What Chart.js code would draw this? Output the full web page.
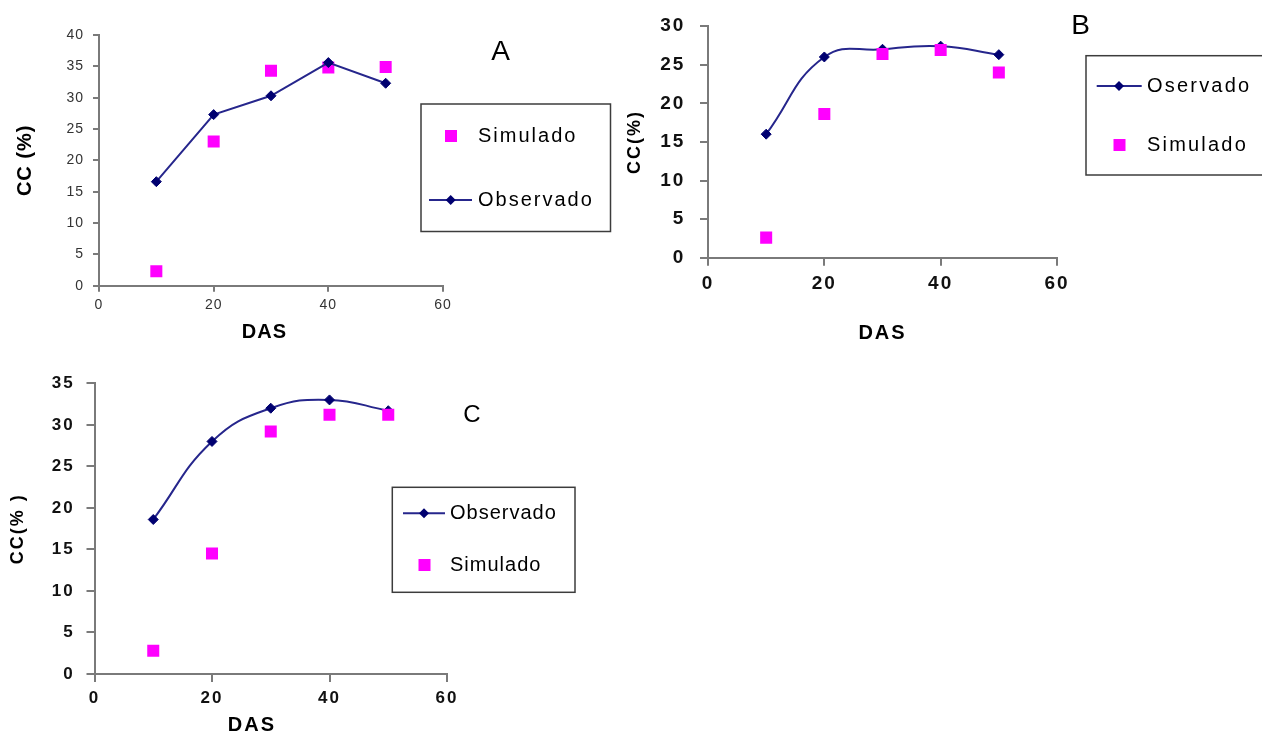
<!DOCTYPE html>
<html>
<head>
<meta charset="utf-8">
<title>CC (%) - DAS</title>
<script src="https://cdn.jsdelivr.net/npm/chart.js@4.4.1/dist/chart.umd.min.js"></script>
<style>
    body { margin: 0; width: 1262px; height: 733px; overflow: hidden; background: #fff; }
    canvas { position: absolute; }
</style>
</head>
<body>
<canvas id="chartA" width="615" height="355" style="left:0;top:0"></canvas>
<canvas id="chartB" width="647" height="355" style="left:615px;top:0"></canvas>
<canvas id="chartC" width="600" height="385" style="left:0;top:360px"></canvas>
<script>
// Days after sowing (x values)
const das = [10, 20, 30, 40, 50];

// Panel A
const obsA = [16.6, 27.3, 30.3, 35.6, 32.3];
const simA = [2.3, 23.0, 34.3, 34.8, 34.9];
// Panel B
const obsB = [16.0, 26.0, 27.0, 27.4, 26.3];
const simB = [2.6, 18.6, 26.4, 26.9, 24.0];
// Panel C
const obsC = [18.6, 28.0, 32.0, 33.0, 31.7];
const simC = [2.8, 14.5, 29.2, 31.2, 31.2];

// Axis tick labels
const xTicks = [0, 20, 40, 60];
const yTicksA = [0, 5, 10, 15, 20, 25, 30, 35, 40];
const yTicksB = [0, 5, 10, 15, 20, 25, 30];
const yTicksC = [0, 5, 10, 15, 20, 25, 30, 35];

const FONT = "'Liberation Sans', Arial, sans-serif";
const NAVY = '#000070';
const LINE = '#26268c';
const PINK = '#ff00ff';
const AXIS = '#7a7a7a';

function toPoints(values) {
    return das.map((d, i) => ({ x: d, y: values[i] }));
}

// Draws the panel letter and the boxed legend, and sets the letter spacing
const panelPlugin = {
    id: 'panel',
    beforeDraw(chart, args, opts) {
        chart.ctx.letterSpacing = opts.spacing + 'px';
    },
    afterDraw(chart, args, opts) {
        const ctx = chart.ctx;
        ctx.save();
        ctx.letterSpacing = '0px';
        ctx.fillStyle = '#000';
        ctx.textAlign = 'center';
        ctx.textBaseline = 'middle';
        ctx.font = opts.letterSize + 'px ' + FONT;
        ctx.fillText(opts.letter, opts.letterX, opts.letterY);

        const b = opts.box;
        ctx.strokeStyle = '#3c3c3c';
        ctx.lineWidth = 1.5;
        ctx.strokeRect(b.x, b.y, b.w, b.h);

        ctx.font = '20px ' + FONT;
        ctx.letterSpacing = opts.legendSpacing + 'px';
        ctx.textAlign = 'left';
        opts.items.forEach(item => {
            const ds = chart.data.datasets[item.dataset];
            if (ds.showLine) {
                ctx.strokeStyle = LINE;
                ctx.lineWidth = 2;
                ctx.beginPath();
                ctx.moveTo(item.x1, item.y);
                ctx.lineTo(item.x2, item.y);
                ctx.stroke();
                ctx.fillStyle = NAVY;
                ctx.beginPath();
                ctx.moveTo(item.mx, item.y - 5);
                ctx.lineTo(item.mx + 5, item.y);
                ctx.lineTo(item.mx, item.y + 5);
                ctx.lineTo(item.mx - 5, item.y);
                ctx.closePath();
                ctx.fill();
            } else {
                ctx.fillStyle = PINK;
                ctx.fillRect(item.mx - 6, item.y - 6, 12, 12);
            }
            ctx.fillStyle = '#000';
            ctx.fillText(ds.label, item.textX, item.y);
        });
        ctx.restore();
    }
};

function makeChart(id, p) {
    const ctx = document.getElementById(id).getContext('2d');
    const obsSet = {
        label: p.obsLabel,
        data: toPoints(p.obs),
        showLine: true,
        tension: p.tension,
        borderColor: LINE,
        borderWidth: 2,
        pointStyle: 'rectRot',
        pointRadius: 5,
        pointBackgroundColor: NAVY,
        pointBorderColor: NAVY,
        pointBorderWidth: 1,
        order: p.obsOnTop ? 0 : 1
    };
    const simSet = {
        label: 'Simulado',
        data: toPoints(p.sim),
        pointStyle: 'rect',
        pointRadius: 8.5,
        pointBackgroundColor: PINK,
        pointBorderColor: PINK,
        pointBorderWidth: 0,
        order: p.obsOnTop ? 1 : 0
    };
    const tickFont = { family: FONT, size: p.tickSize, weight: p.tickWeight };
    return new Chart(ctx, {
        type: 'scatter',
        data: { datasets: [obsSet, simSet] },
        plugins: [panelPlugin],
        options: {
            responsive: false,
            animation: false,
            devicePixelRatio: 1,
            layout: { padding: { left: 0, top: p.top, right: p.right, bottom: 0 } },
            plugins: {
                legend: { display: false },
                tooltip: { enabled: false },
                panel: p.panel
            },
            scales: {
                x: {
                    type: 'linear',
                    min: xTicks[0],
                    max: xTicks[xTicks.length - 1],
                    afterBuildTicks: s => { s.ticks = xTicks.map(v => ({ value: v })); },
                    afterFit: s => { s.height = p.xHeight; },
                    ticks: { color: p.tickColor, font: tickFont, padding: p.xPad, maxRotation: 0 },
                    grid: { drawOnChartArea: false, drawTicks: true, tickLength: p.tickLen, color: AXIS, lineWidth: 2 },
                    border: { display: true, color: AXIS, width: 2 },
                    title: {
                        display: true,
                        text: p.xTitle,
                        color: '#000',
                        font: { family: FONT, size: 20, weight: 'bold' },
                        padding: { top: 0, bottom: p.xTitlePad }
                    }
                },
                y: {
                    type: 'linear',
                    min: p.yTicks[0],
                    max: p.yTicks[p.yTicks.length - 1],
                    afterBuildTicks: s => { s.ticks = p.yTicks.map(v => ({ value: v })); },
                    afterFit: s => { s.width = p.yWidth; },
                    ticks: { color: p.tickColor, font: tickFont, padding: p.yPad },
                    grid: { drawOnChartArea: false, drawTicks: true, tickLength: p.tickLen, color: AXIS, lineWidth: 2 },
                    border: { display: true, color: AXIS, width: 2 },
                    title: {
                        display: true,
                        text: p.yTitle,
                        color: '#000',
                        font: { family: FONT, size: p.yTitleSize, weight: 'bold' },
                        padding: { top: p.yTitlePad, bottom: 0 }
                    }
                }
            }
        }
    });
}

document.addEventListener('DOMContentLoaded', function() {
    // Panel A
    makeChart('chartA', {
        obs: obsA, sim: simA, obsLabel: 'Observado', obsOnTop: true, tension: 0,
        yTicks: yTicksA, top: 35, right: 172, yWidth: 99, xHeight: 69.3,
        tickSize: 14, tickWeight: 'normal', tickColor: '#333', tickLen: 6, xPad: 5, yPad: 9,
        xTitle: 'DAS  ', xTitlePad: 11, yTitle: 'CC (%)', yTitleSize: 20, yTitlePad: 13,
        panel: {
            spacing: 1, legendSpacing: 2,
            letter: 'A', letterSize: 28, letterX: 500.5, letterY: 52,
            box: { x: 421, y: 104, w: 189.5, h: 127.5 },
            items: [
                { dataset: 1, mx: 451, y: 136, textX: 478 },
                { dataset: 0, x1: 429, x2: 472, mx: 450.7, y: 200, textX: 478 }
            ]
        }
    });

    // Panel B
    makeChart('chartB', {
        obs: obsB, sim: simB, obsLabel: 'Oservado', obsOnTop: false, tension: 0.45,
        yTicks: yTicksB, top: 22.7, right: 205, yWidth: 93, xHeight: 97.3,
        tickSize: 19, tickWeight: 'bold', tickColor: '#111', tickLen: 8, xPad: 7, yPad: 14.7,
        xTitle: 'DAS', xTitlePad: 10, yTitle: 'CC(%)', yTitleSize: 18, yTitlePad: 9,
        panel: {
            spacing: 2, legendSpacing: 2.2,
            letter: 'B', letterSize: 28, letterX: 465.5, letterY: 26.7,
            box: { x: 471, y: 55.7, w: 200, h: 119.3 },
            items: [
                { dataset: 0, x1: 481.7, x2: 526.7, mx: 504, y: 86, textX: 532 },
                { dataset: 1, mx: 504.5, y: 145, textX: 532 }
            ]
        }
    });

    // Panel C
    makeChart('chartC', {
        obs: obsC, sim: simC, obsLabel: 'Observado', obsOnTop: false, tension: 0.45,
        yTicks: yTicksC, top: 23.3, right: 153, yWidth: 94.5, xHeight: 71,
        tickSize: 17, tickWeight: 'bold', tickColor: '#111', tickLen: 8, xPad: 6, yPad: 11.8,
        xTitle: 'DAS     ', xTitlePad: 8, yTitle: 'CC(% )', yTitleSize: 18, yTitlePad: 7.5,
        panel: {
            spacing: 2, legendSpacing: 1,
            letter: 'C', letterSize: 24, letterX: 472, letterY: 55,
            box: { x: 392.3, y: 127.3, w: 182.7, h: 105 },
            items: [
                { dataset: 0, x1: 403, x2: 445, mx: 424, y: 153.3, textX: 450 },
                { dataset: 1, mx: 424.5, y: 205, textX: 450 }
            ]
        }
    });
});
</script>
</body>
</html>
